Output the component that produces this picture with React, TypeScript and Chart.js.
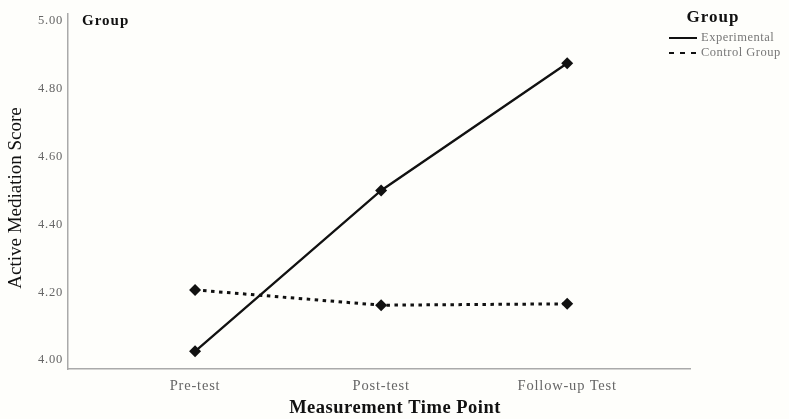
import React, { useEffect, useRef } from "react";
import { Chart, registerables } from "chart.js";
Chart.register(...registerables);

const categories = ["Pre-test", "Post-test", "Follow-up Test"];
const experimental = [4.026, 4.5, 4.875];
const control = [4.207, 4.162, 4.166];
const yTicks = [4.0, 4.2, 4.4, 4.6, 4.8, 5.0];
const seriesNames = ["Experimental", "Control Group"];
const legendTitle = "Group";
const xTitle = "Measurement Time Point";
const yTitle = "Active Mediation Score";

const FONT = "'Liberation Serif', 'Times New Roman', serif";

const overlay = {
  id: "overlay",
  afterDraw(chart: any) {
    const ctx = chart.ctx;
    ctx.save();
    ctx.letterSpacing = "1px";
    ctx.fillStyle = "#111";
    ctx.textBaseline = "middle";
    ctx.font = `bold 15px ${FONT}`;
    ctx.textAlign = "left";
    ctx.fillText(legendTitle, chart.chartArea.left + 14, 21);
    ctx.font = `bold 17px ${FONT}`;
    ctx.textAlign = "center";
    ctx.fillText(legendTitle, 713, 18);
    // axis titles
    ctx.letterSpacing = "0.5px";
    ctx.font = `bold 18.5px ${FONT}`;
    ctx.fillText(xTitle, 395, 408);
    ctx.save();
    ctx.letterSpacing = "0px";
    ctx.translate(16, 198);
    ctx.rotate(-Math.PI / 2);
    ctx.font = `19px ${FONT}`;
    ctx.fillText(yTitle, 0, 0);
    ctx.restore();
    // legend items
    ctx.strokeStyle = "#111";
    ctx.lineWidth = 2;
    ctx.beginPath();
    ctx.moveTo(669, 38);
    ctx.lineTo(697, 38);
    ctx.stroke();
    ctx.setLineDash([5, 6]);
    ctx.beginPath();
    ctx.moveTo(669, 53);
    ctx.lineTo(697, 53);
    ctx.stroke();
    ctx.setLineDash([]);
    ctx.letterSpacing = "0.5px";
    ctx.font = `12.5px ${FONT}`;
    ctx.fillStyle = "#777";
    ctx.textAlign = "left";
    ctx.fillText(seriesNames[0], 701, 38);
    ctx.fillText(seriesNames[1], 701, 53);
    ctx.restore();
  },
};

const bg = {
  id: "bg",
  beforeDraw(chart: any) {
    const ctx = chart.ctx;
    ctx.save();
    ctx.fillStyle = "#fefefb";
    ctx.fillRect(0, 0, chart.width, chart.height);
    ctx.restore();
    ctx.letterSpacing = "0.8px";
  },
};

export default function App() {
  const ref = useRef<HTMLCanvasElement>(null);
  useEffect(() => {
    document.body.style.margin = "0";
    const chart = new Chart(ref.current!, {
      type: "line",
      data: {
        datasets: [
          {
            label: seriesNames[0],
            data: experimental.map((v, i) => ({ x: i, y: v })),
            borderColor: "#111",
            backgroundColor: "#111",
            borderWidth: 2.3,
            pointStyle: "rectRot",
            pointRadius: 6,
            pointBackgroundColor: "#111",
            pointBorderWidth: 0,
          },
          {
            label: seriesNames[1],
            data: control.map((v, i) => ({ x: i, y: v })),
            borderColor: "#111",
            backgroundColor: "#111",
            borderWidth: 3,
            borderDash: [3.5, 4.5],
            pointStyle: "rectRot",
            pointRadius: 6,
            pointBackgroundColor: "#111",
            pointBorderWidth: 0,
          },
        ],
      },
      options: {
        animation: false,
        responsive: false,
        layout: { padding: { top: 14, right: 99, left: 0, bottom: 0 } },
        plugins: { legend: { display: false }, tooltip: { enabled: false } },
        scales: {
          x: {
            type: "linear",
            min: -0.683,
            max: 2.66,
            afterBuildTicks(scale: any) {
              scale.ticks = categories.map((_, i) => ({ value: i }));
            },
            afterFit(scale: any) {
              scale.height = 50;
            },
            grid: { display: false, drawTicks: false },
            border: { color: "#aaa", width: 1.5 },
            ticks: {
              padding: 8,
              color: "#666",
              font: { family: FONT, size: 14.5 },
              callback: (v: any) => categories[v as number] ?? "",
            },
            title: { display: false },
          },
          y: {
            min: 3.974,
            max: 5.02,
            afterBuildTicks(scale: any) {
              scale.ticks = yTicks.map((v) => ({ value: v }));
            },
            afterFit(scale: any) {
              scale.width = 68;
            },
            grid: { display: false, drawTicks: false },
            border: { color: "#aaa", width: 1.5 },
            ticks: {
              padding: 5,
              color: "#666",
              font: { family: FONT, size: 12.5 },
              callback: (v: any) => Number(v).toFixed(2),
            },
            title: { display: false },
          },
        },
      },
      plugins: [bg, overlay],
    } as any);
    return () => chart.destroy();
  }, []);
  return (
    <div style={{ position: "fixed", left: 0, top: 0 }}>
      <canvas ref={ref} width={789} height={419} />
    </div>
  );
}
